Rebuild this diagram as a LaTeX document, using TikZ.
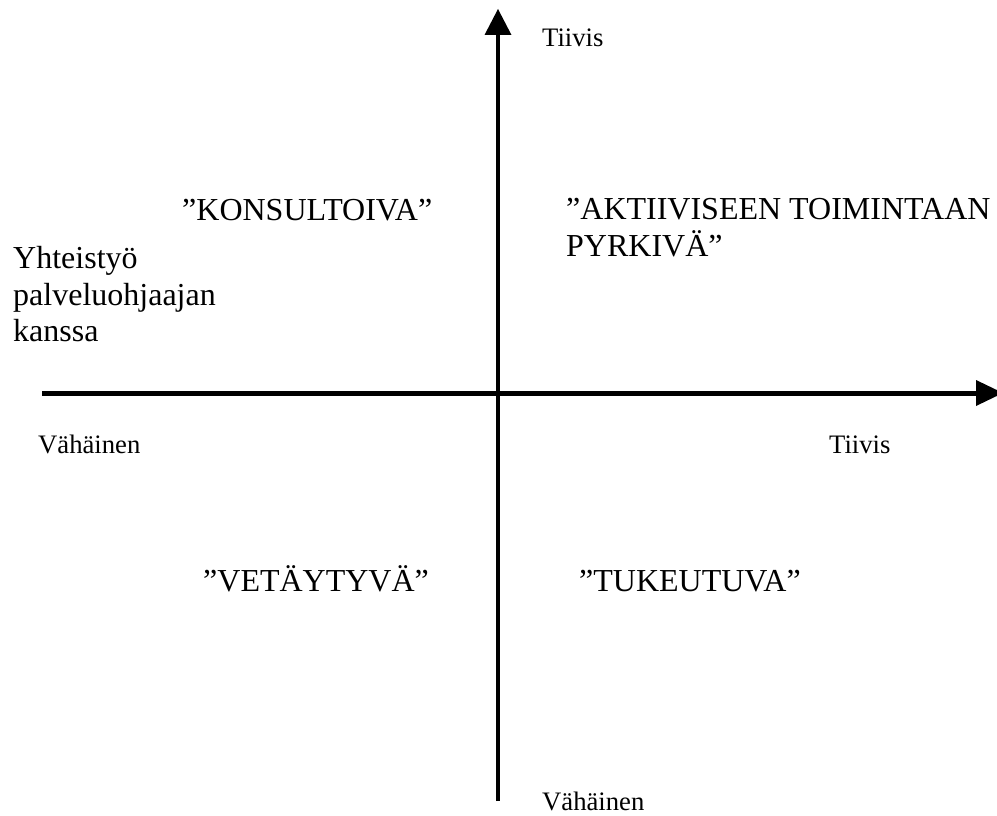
\documentclass[tikz,border=0pt]{standalone}
\usepackage{fontspec}
\setmainfont{Liberation Serif}
\usetikzlibrary{arrows.meta}
\tikzset{
  big/.style={font=\fontsize{32}{37}\selectfont, inner sep=0pt, anchor=base west},
  small/.style={font=\fontsize{26.67}{31}\selectfont, inner sep=0pt, anchor=base west},
  vaxis/.style={line width=4pt, -{Triangle[length=26pt,width=27pt,line width=0pt]}},
  haxis/.style={line width=5pt, -{Triangle[length=27pt,width=26pt,line width=0pt]}}
}
\begin{document}
\begin{tikzpicture}[x=1pt,y=-1pt]
\useasboundingbox (0,0) rectangle (997,816);
% axes
\coordinate (ybot) at (498,801);
\coordinate (ytop) at (498,9);
\coordinate (xleft) at (42,393);
\coordinate (xright) at (1003,393);
\draw[vaxis] (ybot) -- (ytop);
\draw[haxis] (xleft) -- (xright);
% axis labels
\node[small] (ytiivis) at (542,47) {Tiivis};
\node[small] (yvah) at (542,810) {Vähäinen};
\node[small] (xvah) at (38,453) {Vähäinen};
\node[small] (xtiivis) at (829,453) {Tiivis};
\node[big] (yl1) at (13,268) {Yhteistyö};
\node[big] (yl2) at (13,305) {palveluohjaajan};
\node[big] (yl3) at (13,341) {kanssa};
% quadrants
\node[big] (konsult) at (182,220) {”KONSULTOIVA”};
\node[big] (akt1) at (566,219) {”AKTIIVISEEN TOIMINTAAN};
\node[big] (akt2) at (566,256) {PYRKIVÄ”};
\node[big] (vet) at (203,591) {”VETÄYTYVÄ”};
\node[big] (tuk) at (579,591) {”TUKEUTUVA”};
\end{tikzpicture}
\end{document}
